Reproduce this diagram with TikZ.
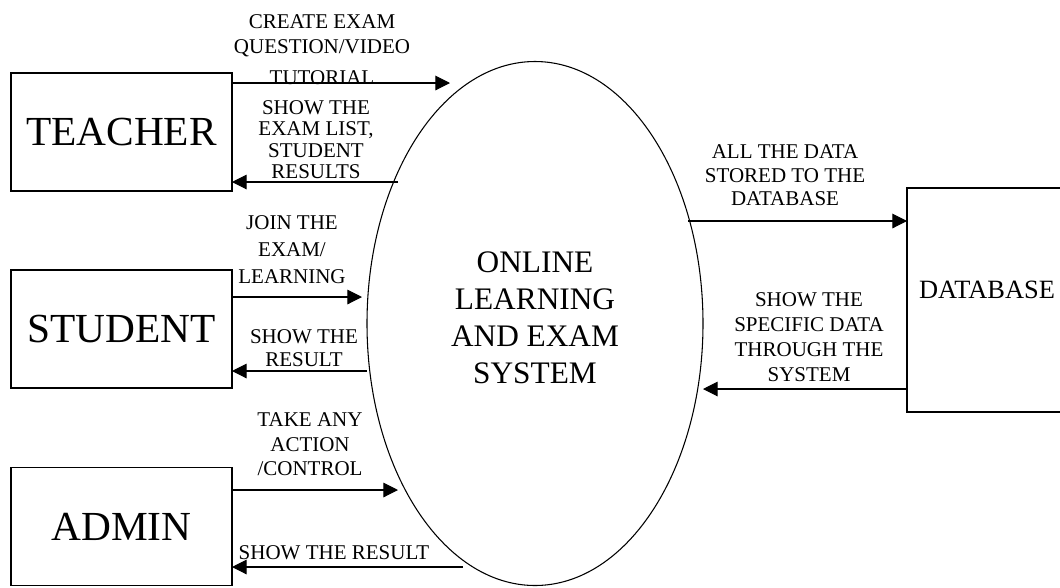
\documentclass[tikz,border=0pt]{standalone}
\usepackage{fontspec}
\setmainfont{Liberation Serif}
\usetikzlibrary{arrows.meta,shapes.geometric}

\tikzset{
  entity/.style={draw, line width=0.8pt, inner sep=0pt, outer sep=0pt, minimum width=165.75pt, minimum height=88.5pt, font=\fontsize{31}{36}\selectfont},
  flow/.style={draw, line width=0.8pt, -{Triangle[length=11pt,width=11pt]}},
  lbl/.style={align=center, inner sep=0pt, font=\fontsize{15.75}{#1}\selectfont},
}

\begin{document}
\begin{tikzpicture}[x=0.75pt,y=0.75pt,yscale=-1,xscale=1]
        \useasboundingbox (0,0) rectangle (1060,587);

        %Shape: Rectangle [teacher, student, admin]
        \node [entity] (teacher) at (121.5,132) {TEACHER};
        \node [entity] (student) at (121.5,329) {STUDENT};
        \node [entity] (admin) at (121.5,526.5) {ADMIN};
        %Shape: Rectangle [database]
        \node [entity, minimum width=120pt, minimum height=168pt, font=\fontsize{19.8}{24}\selectfont, text depth=15pt] (db) at (987,300) {DATABASE};
        %Shape: Ellipse [system]
        \node [draw, ellipse, line width=0.8pt, inner sep=0pt, outer sep=0pt, minimum width=252pt, minimum height=393pt, align=center, font=\fontsize{23.5}{27.75}\selectfont, text depth=9pt] (sys) at (535,323.5) {ONLINE\\LEARNING\\AND EXAM\\SYSTEM};

        % free ends at the ellipse
        \coordinate (t-in) at (450,83);
        \coordinate (t-out) at (398,182);
        \coordinate (s-in) at (362,297);
        \coordinate (s-out) at (367,371);
        \coordinate (a-in) at (398,490);
        \coordinate (a-out) at (463,567);
        \coordinate (d-out) at (688,221);
        \coordinate (d-in) at (703,389);

        % Text Node
        \node [lbl=18.75] (l-create) at (322,50) {CREATE EXAM\\QUESTION/VIDEO\\[4.5pt]TUTORIAL};
        % Text Node
        \node [lbl=16.1] (l-tlist) at (316,139.5) {SHOW THE\\EXAM LIST,\\STUDENT\\RESULTS};
        % Text Node
        \node [lbl=20.25] (l-join) at (292,250) {JOIN THE\\EXAM/\\LEARNING};
        % Text Node
        \node [lbl=17.25] (l-sres) at (304,348.5) {SHOW THE\\RESULT};
        % Text Node
        \node [lbl=18.4] (l-take) at (310,444.5) {TAKE ANY\\ACTION\\/CONTROL};
        % Text Node
        \node [lbl=18] (l-ares) at (334,553) {SHOW THE RESULT};
        % Text Node
        \node [lbl=17.6] (l-store) at (785,175.5) {ALL THE DATA\\STORED TO THE\\DATABASE};
        % Text Node
        \node [lbl=18.75] (l-spec) at (809,337.5) {SHOW THE\\SPECIFIC DATA\\THROUGH THE\\SYSTEM};

        %Straight Lines [flows]
        \draw [flow] (teacher.east |- t-in) -- (t-in);
        \draw [flow] (t-out) -- (teacher.east |- t-out);
        \draw [flow] (student.east |- s-in) -- (s-in);
        \draw [flow] (s-out) -- (student.east |- s-out);
        \draw [flow] (admin.east |- a-in) -- (a-in);
        \draw [flow] (a-out) -- (admin.east |- a-out);
        \draw [flow] (d-out) -- (db.west |- d-out);
        \draw [flow] (db.west |- d-in) -- (d-in);

    \end{tikzpicture}
\end{document}
